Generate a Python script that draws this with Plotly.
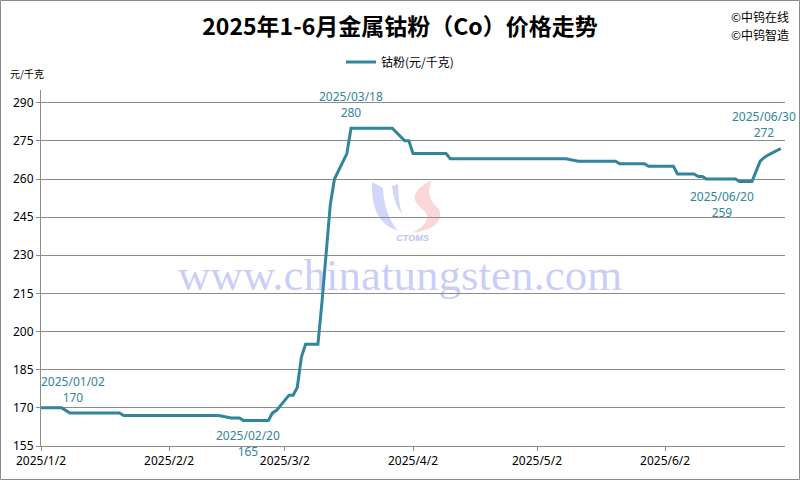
import plotly.graph_objects as go

# ---------------- data ----------------
dates = [
    "2025-01-02", "2025-01-07", "2025-01-09", "2025-01-21", "2025-01-22",
    "2025-02-14", "2025-02-17", "2025-02-19", "2025-02-20", "2025-02-26",
    "2025-02-27", "2025-02-28", "2025-03-03", "2025-03-04", "2025-03-05",
    "2025-03-06", "2025-03-07", "2025-03-10", "2025-03-11", "2025-03-12",
    "2025-03-13", "2025-03-14", "2025-03-17", "2025-03-18", "2025-03-28",
    "2025-03-31", "2025-04-01", "2025-04-02", "2025-04-10", "2025-04-11",
    "2025-05-09", "2025-05-12", "2025-05-21", "2025-05-22", "2025-05-28",
    "2025-05-29", "2025-06-04", "2025-06-05", "2025-06-09", "2025-06-10",
    "2025-06-11", "2025-06-12", "2025-06-19", "2025-06-20", "2025-06-23",
    "2025-06-24", "2025-06-25", "2025-06-26", "2025-06-27", "2025-06-30",
]
prices = [
    170, 170, 168, 168, 167,
    167, 166, 166, 165, 165,
    168, 169, 175, 175, 178,
    190, 195, 195, 212, 232,
    250, 260, 270, 280, 280,
    275, 275, 270, 270, 268,
    268, 267, 267, 266, 266,
    265, 265, 262, 262, 261,
    261, 260, 260, 259, 259,
    263, 267, 268.5, 269.5, 272,
]

x_tick_vals = ["2025-01-02", "2025-02-02", "2025-03-02", "2025-04-02", "2025-05-02", "2025-06-02"]
x_tick_text = ["2025/1/2", "2025/2/2", "2025/3/2", "2025/4/2", "2025/5/2", "2025/6/2"]
y_tick_vals = [155, 170, 185, 200, 215, 230, 245, 260, 275, 290]

label_dates = ["2025-01-02", "2025-02-20", "2025-03-18", "2025-06-20", "2025-06-30"]
label_texts = ["2025/01/02", "2025/02/20", "2025/03/18", "2025/06/20", "2025/06/30"]
label_values = [170, 165, 280, 259, 272]
label_xshift = [32, 4, 0, -18, -17]
label_yshift = [18, -23, 24, -23, 23.5]

series_name = "钴粉(元/千克)"
title_text = "2025年1-6月金属钴粉（Co）价格走势"

LINE = "#31859C"
GRID = "#8c8c8c"
FONT = "Noto Sans, Noto Sans CJK SC, sans-serif"
CJK = "Noto Sans CJK SC, sans-serif"

# plot area geometry (pixels)
W, H = 800, 480
L, R, T, B = 41, 15, 90, 34
PW, PH = W - L - R, H - T - B


def px(x, y):
    """convert figure pixel coords into paper coords"""
    return (x - L) / PW, 1 - (y - T) / PH


def path(points):
    out = []
    for cmd, pts in points:
        coords = []
        for (x, y) in pts:
            a, b = px(x, y)
            coords.append(f"{a:.5f},{b:.5f}")
        out.append(cmd + " " + " ".join(coords))
    return " ".join(out) + " Z"


fig = go.Figure()
fig.add_trace(go.Scatter(
    x=dates, y=prices, mode="lines", name=series_name,
    line=dict(color=LINE, width=3),
    hoverinfo="x+y",
))

annotations = []
for d, t, v, xs, ys in zip(label_dates, label_texts, label_values, label_xshift, label_yshift):
    annotations.append(dict(
        x=d, y=v, xref="x", yref="y", text=f"{t}<br>{v}", showarrow=False,
        xshift=xs, yshift=ys, font=dict(family=FONT, size=12, color=LINE),
        align="center",
    ))

# unit label
ux, uy = px(8, 73)
annotations.append(dict(x=ux, y=uy, xref="paper", yref="paper", text="元/千克",
                        showarrow=False, xanchor="left", yanchor="middle",
                        font=dict(family=CJK, size=10, color="#000000")))
# copyright marks
for txt, yy in [("©中钨在线", 16), ("©中钨智造", 35)]:
    cx, cy = px(729, yy)
    annotations.append(dict(x=cx, y=cy, xref="paper", yref="paper", text=txt,
                            showarrow=False, xanchor="left", yanchor="middle",
                            font=dict(family=CJK, size=12, color="#000000")))

shapes = []
# outer chart border
bx0, by0 = px(0.5, 479.5)
bx1, by1 = px(799.5, 0.5)
shapes.append(dict(type="rect", xref="paper", yref="paper", x0=bx0, y0=by0, x1=bx1, y1=by1,
                   line=dict(color="#8a8a8a", width=1), fillcolor="rgba(0,0,0,0)", layer="above"))
# watermark text
wx0, wy0 = px(150, 300)
wx1, wy1 = px(650, 240)
shapes.append(dict(type="rect", xref="paper", yref="paper", x0=wx0, y0=wy0, x1=wx1, y1=wy1,
                   line=dict(width=0), fillcolor="rgba(0,0,0,0)", layer="below",
                   label=dict(text="www.chinatungsten.com", textposition="middle center",
                              font=dict(family="Liberation Serif, serif", size=45,
                                        color="rgba(112,126,241,0.38)"))))
# watermark logo
shapes.append(dict(type="path", xref="paper", yref="paper", layer="below",
                   path=path([("M", [(372, 182)]), ("Q", [(370, 222), (398, 231)]),
                              ("Q", [(384, 214), (383, 188)])]),
                   fillcolor="rgba(112,126,241,0.32)", line=dict(width=0)))
shapes.append(dict(type="path", xref="paper", yref="paper", layer="below",
                   path=path([("M", [(392, 186)]), ("Q", [(394, 205), (402, 214)]),
                              ("Q", [(398, 200), (398, 184)])]),
                   fillcolor="rgba(112,126,241,0.32)", line=dict(width=0)))
shapes.append(dict(type="path", xref="paper", yref="paper", layer="below",
                   path=path([("M", [(432, 180)]), ("Q", [(404, 194), (421, 208)]),
                              ("Q", [(437, 220), (412, 233)]), ("Q", [(446, 228), (439, 209)]),
                              ("Q", [(424, 197), (432, 180)])]),
                   fillcolor="rgba(240,110,110,0.28)", line=dict(width=0)))
cx0, cy0 = px(385, 244)
cx1, cy1 = px(440, 230)
shapes.append(dict(type="rect", xref="paper", yref="paper", x0=cx0, y0=cy0, x1=cx1, y1=cy1,
                   line=dict(width=0), fillcolor="rgba(0,0,0,0)", layer="below",
                   label=dict(text="<b><i>CTOMS</i></b>", textposition="middle center",
                              font=dict(family="Liberation Sans, sans-serif", size=9,
                                        color="rgba(112,126,241,0.5)"))))

lx, ly = px(400, 62)
fig.update_layout(
    width=W, height=H,
    margin=dict(l=L, r=R, t=T, b=B, pad=0),
    paper_bgcolor="white", plot_bgcolor="white",
    title=dict(text=title_text, x=0.5, xref="container", xanchor="center",
               y=1 - 27 / H, yref="container", yanchor="middle",
               font=dict(family=CJK, size=23, color="#000000", weight="bold")),
    showlegend=True,
    legend=dict(orientation="h", x=lx, y=ly, xref="paper", yref="paper",
                xanchor="center", yanchor="middle", bgcolor="rgba(0,0,0,0)",
                font=dict(family=CJK, size=12, color="#000000")),
    xaxis=dict(type="date", range=["2025-01-02", "2025-07-01"],
               tickmode="array", tickvals=x_tick_vals, ticktext=x_tick_text,
               ticks="outside", ticklen=4, tickcolor=GRID, showline=True,
               linecolor=GRID, linewidth=1, showgrid=False, zeroline=False,
               tickfont=dict(family=FONT, size=12, color="#000000")),
    yaxis=dict(range=[155, 295], tickmode="array", tickvals=y_tick_vals,
               ticks="outside", ticklen=4, tickcolor=GRID, showline=True,
               linecolor=GRID, linewidth=1, showgrid=True, gridcolor=GRID,
               gridwidth=1, zeroline=False,
               tickfont=dict(family=FONT, size=12, color="#000000")),
    annotations=annotations,
    shapes=shapes,
)

fig.write_html("out.html", config={"displayModeBar": False},
               post_script="document.body.style.margin='0';document.body.style.overflow='hidden';")
